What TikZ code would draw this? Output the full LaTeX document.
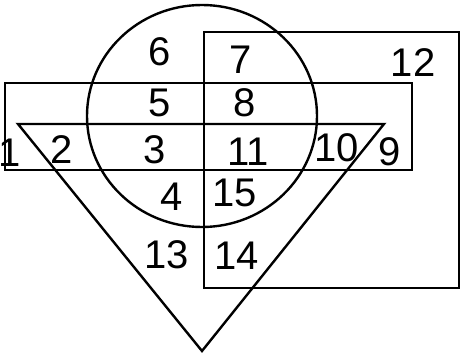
\documentclass[tikz,border=0pt]{standalone}
\usepackage{fontspec}
\setmainfont{Liberation Sans}
\usepackage{tikz}
\usetikzlibrary{calc}

\begin{document}
\begin{tikzpicture}[
  x=0.5pt, y=-0.5pt,
  outline/.style={draw=black, line width=1.2pt},
  region/.style={font=\fontsize{20}{22}\selectfont, inner sep=0pt},
]
\useasboundingbox (0,0) rectangle (460,358);
% ====== SETS ======
\draw[outline] (202,116) ellipse[x radius=115, y radius=111];
\draw[outline] (204,32) rectangle (459,288);
\draw[outline] (5,83) rectangle (412,170);
\draw[outline] (18,124) -- (384,124) -- (202,351) -- cycle;
% ====== REGION NUMBERS ======
\node[region] (r1) at (10,153) {1};
\node[region] (r2) at (62,150) {2};
\node[region] (r3) at (155,150) {3};
\node[region] (r4) at (172,197) {4};
\node[region] (r5) at (160,103) {5};
\node[region] (r6) at (160,52) {6};
\node[region] (r7) at (241,60) {7};
\node[region] (r8) at (245,103) {8};
\node[region] (r9) at (390,152) {9};
\node[region] (r10) at (337,148) {10};
\node[region] (r11) at (248,152) {11};
\node[region] (r12) at (413,63) {12};
\node[region] (r13) at (167,255) {13};
\node[region] (r14) at (237,256) {14};
\node[region] (r15) at (235,193) {15};
\end{tikzpicture}
\end{document}
